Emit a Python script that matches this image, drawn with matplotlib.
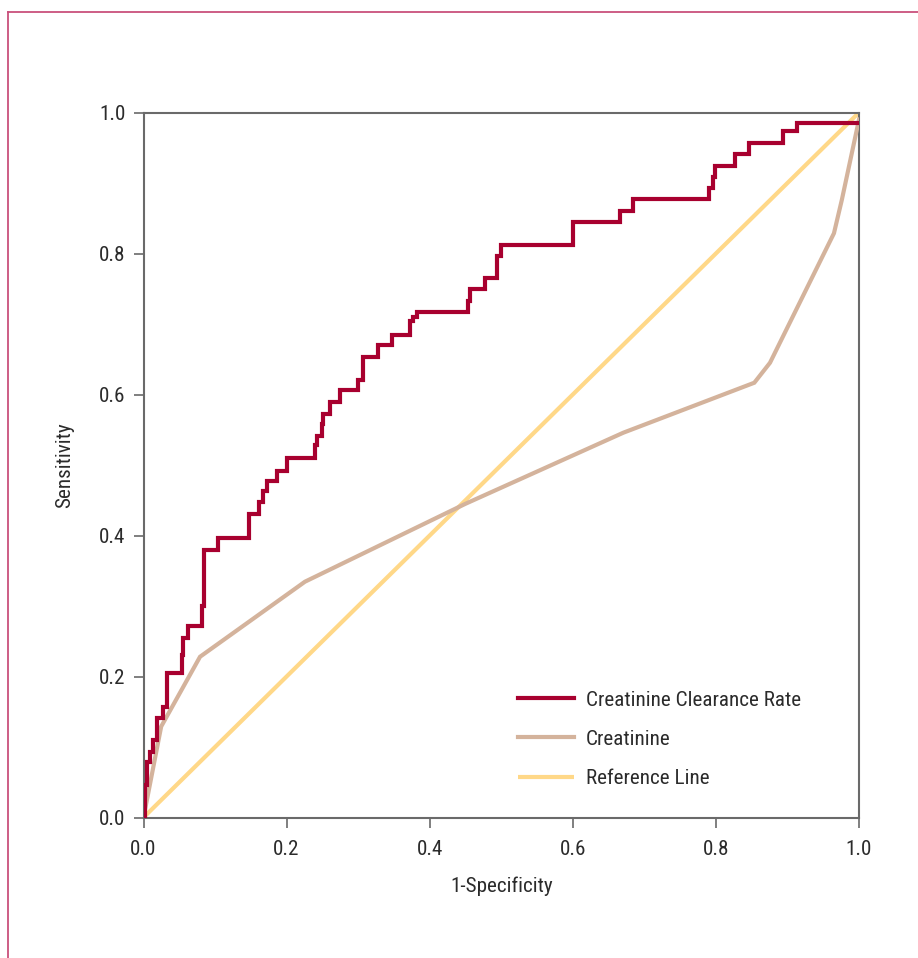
import matplotlib
matplotlib.use("Agg")
import matplotlib.pyplot as plt
from matplotlib import font_manager
from matplotlib.lines import Line2D

# ---- data ----
ccr_fpr = [0.0, 0.0014, 0.0045, 0.009, 0.0137, 0.0184, 0.0277, 0.0324, 0.0534, 0.0556,
           0.0626, 0.0813, 0.085, 0.1045, 0.147, 0.161, 0.1666, 0.172, 0.187, 0.200,
           0.2397, 0.243, 0.249, 0.251, 0.2607, 0.2746, 0.300, 0.307, 0.328, 0.3477,
           0.3725, 0.377, 0.382, 0.453, 0.457, 0.477, 0.4945, 0.4997, 0.600, 0.666,
           0.6837, 0.791, 0.7955, 0.799, 0.8267, 0.8467, 0.894, 0.913, 1.0]
ccr_tpr = [0.0, 0.046, 0.079, 0.093, 0.110, 0.141, 0.157, 0.205, 0.230, 0.254,
           0.271, 0.300, 0.380, 0.397, 0.430, 0.4475, 0.4636, 0.477, 0.492, 0.5095,
           0.528, 0.541, 0.558, 0.573, 0.589, 0.607, 0.6206, 0.653, 0.670, 0.684,
           0.7047, 0.7095, 0.7174, 0.7326, 0.749, 0.765, 0.7965, 0.812, 0.844, 0.860,
           0.877, 0.8925, 0.909, 0.9246, 0.941, 0.957, 0.9738, 0.9855, 0.9855]

cr_fpr = [0.0, 0.0247, 0.079, 0.2257, 0.45, 0.6706, 0.8537, 0.8756, 0.965, 0.976, 1.0]
cr_tpr = [0.0, 0.129, 0.228, 0.3345, 0.445, 0.5458, 0.6167, 0.645, 0.8287, 0.876, 0.99]

ref_x = [0.0, 1.0]
ref_y = [0.0, 1.0]

labels = ["Creatinine Clearance Rate", "Creatinine", "Reference Line"]
ticks = [0.0, 0.2, 0.4, 0.6, 0.8, 1.0]
tick_labels = ["0.0", "0.2", "0.4", "0.6", "0.8", "1.0"]

# ---- style ----
names = {f.name for f in font_manager.fontManager.ttflist}
fam = None
for cand in ["Roboto Condensed", "Liberation Sans Narrow", "Open Sans Condensed",
             "Noto Sans Condensed", "DejaVu Sans Condensed"]:
    if cand in names:
        fam = cand
        break
if fam is None:
    fam = "Liberation Sans"
plt.rcParams['font.family'] = [fam, 'DejaVu Sans']
FS = 15.2 if fam != "Liberation Sans" else 14

RED = "#a8002f"
TAN = "#d4b39c"
YEL = "#ffd888"
SPINE = "#6a6a6a"
TXT = "#2b2b2b"

fig = plt.figure(figsize=(9.18, 9.58), dpi=100)
# outer frame lines (left and top)
fig.add_artist(Line2D([8/918, 8/918], [0, 1 - 12/958], transform=fig.transFigure,
                      color="#c9507c", lw=1.3))
fig.add_artist(Line2D([8/918, 1], [1 - 12/958, 1 - 12/958], transform=fig.transFigure,
                      color="#c9507c", lw=1.3))

ax = fig.add_axes([143.5/918, 1 - 817.5/958, (859 - 143.5)/918, (817.5 - 112.5)/958])

ax.plot(ref_x, ref_y, color=YEL, lw=3.0, label=labels[2], zorder=2, solid_capstyle='butt')
ax.plot(cr_fpr, cr_tpr, color=TAN, lw=3.0, label=labels[1], zorder=3, solid_joinstyle='miter')
ax.plot(ccr_fpr, ccr_tpr, color=RED, lw=3.0, drawstyle='steps-post', label=labels[0],
        zorder=4, solid_joinstyle='miter')

ax.set_xlim(0, 1)
ax.set_ylim(0, 1)
ax.set_xticks(ticks)
ax.set_xticklabels(tick_labels)
ax.set_yticks(ticks)
ax.set_yticklabels(tick_labels)
ax.tick_params(direction='out', length=7, width=1.2, color=SPINE, labelsize=FS,
               labelcolor=TXT, pad=6)
ax.tick_params(axis='x', pad=9)
for s in ax.spines.values():
    s.set_color(SPINE)
    s.set_linewidth(1.5)

ax.set_xlabel("1-Specificity", fontsize=FS, color=TXT, labelpad=13)
ax.set_ylabel("Sensitivity", fontsize=FS, color=TXT, labelpad=18)

h, l = ax.get_legend_handles_labels()
order = [2, 1, 0]
leg = ax.legend([h[i] for i in order], [l[i] for i in order], loc='lower left',
                bbox_to_anchor=(0.497, 0.015), frameon=False, fontsize=FS,
                handlelength=2.65, handletextpad=0.55, labelspacing=0.95)
for t in leg.get_texts():
    t.set_color(TXT)

fig.savefig("out.png", dpi=100)
